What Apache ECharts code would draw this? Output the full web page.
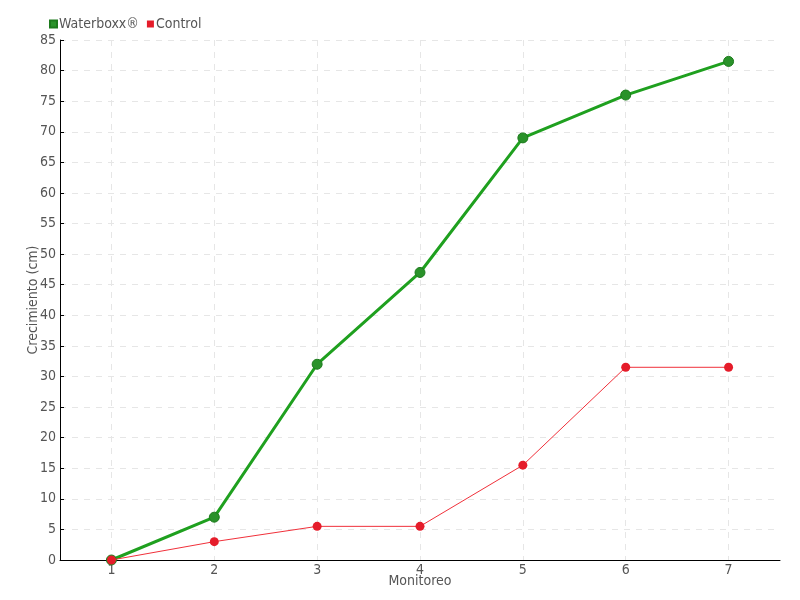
<!DOCTYPE html>
<html><head><meta charset="utf-8">
<script src="https://cdn.jsdelivr.net/npm/echarts@6/dist/echarts.min.js"></script>
<style>html,body{margin:0;padding:0;background:#fff}#c{width:800px;height:600px}</style>
</head><body><div id="c"></div>
<script>
const categories = [1, 2, 3, 4, 5, 6, 7];
const waterboxx = [0, 7, 32, 47, 69, 76, 81.5];
const control = [0, 3, 5.5, 5.5, 15.5, 31.5, 31.5];
const yTicks = {min: 0, max: 85, interval: 5};

const FONT = '"DejaVu Sans Condensed", "Liberation Sans Narrow", sans-serif';
const GRIDC = '#e6e6e6';
const xSplitColors = ['transparent'].concat(categories.map(() => GRIDC), ['transparent']);
const chart = echarts.init(document.getElementById('c'));
chart.setOption({
  animation: false,
  textStyle: {fontFamily: FONT},
  legend: {
    left: 44, top: 12, itemWidth: 7, itemHeight: 7, itemGap: 8,
    textStyle: {fontFamily: FONT, fontSize: 14, color: '#555', padding: [0, 0, 0, -3]},
    data: [{name: 'Waterboxx®', icon: 'rect'}, {name: 'Control', icon: 'rect'}]
  },
  grid: {left: 60, right: 20, top: 40, bottom: 40},
  xAxis: {
    type: 'value', min: 0.5, max: 7.5, splitNumber: 7,
    name: 'Monitoreo', nameLocation: 'middle', nameGap: 14, nameMoveOverlap: false,
    nameTextStyle: {fontFamily: FONT, fontSize: 14, color: '#555'},
    axisLine: {lineStyle: {color: '#000', width: 1}},
    axisTick: {show: false},
    axisLabel: {showMinLabel: false, showMaxLabel: false, color: '#555', fontSize: 14, margin: 3, fontFamily: FONT},
    splitLine: {show: true, lineStyle: {color: xSplitColors, type: [6, 6], width: 1}}
  },
  yAxis: {
    type: 'value', min: yTicks.min, max: yTicks.max, interval: yTicks.interval,
    name: 'Crecimiento (cm)', nameLocation: 'middle', nameGap: 20, nameMoveOverlap: false,
    nameTextStyle: {fontFamily: FONT, fontSize: 14, color: '#555'},
    axisLine: {show: true, lineStyle: {color: '#000', width: 1}},
    axisTick: {show: true, inside: true, length: 4, lineStyle: {color: '#000'}},
    axisLabel: {color: '#555', fontSize: 14, margin: 4, fontFamily: FONT},
    splitLine: {show: true, lineStyle: {color: GRIDC, type: [6, 6], width: 1}}
  },
  series: [
    {
      name: 'Waterboxx®', type: 'line',
      data: categories.map((c, i) => [c, waterboxx[i]]),
      symbol: 'circle', symbolSize: 10, z: 3,
      lineStyle: {color: '#1fa01f', width: 3},
      itemStyle: {color: '#2a922a', borderColor: '#1c7a1c', borderWidth: 1}
    },
    {
      name: 'Control', type: 'line',
      data: categories.map((c, i) => [c, control[i]]),
      symbol: 'circle', symbolSize: 9, z: 4,
      lineStyle: {color: '#f0303a', width: 1},
      itemStyle: {color: '#e51c2a', borderColor: '#d81a26', borderWidth: 0}
    }
  ],
  color: ['#1fa01f', '#e51c2a']
});
</script></body></html>
